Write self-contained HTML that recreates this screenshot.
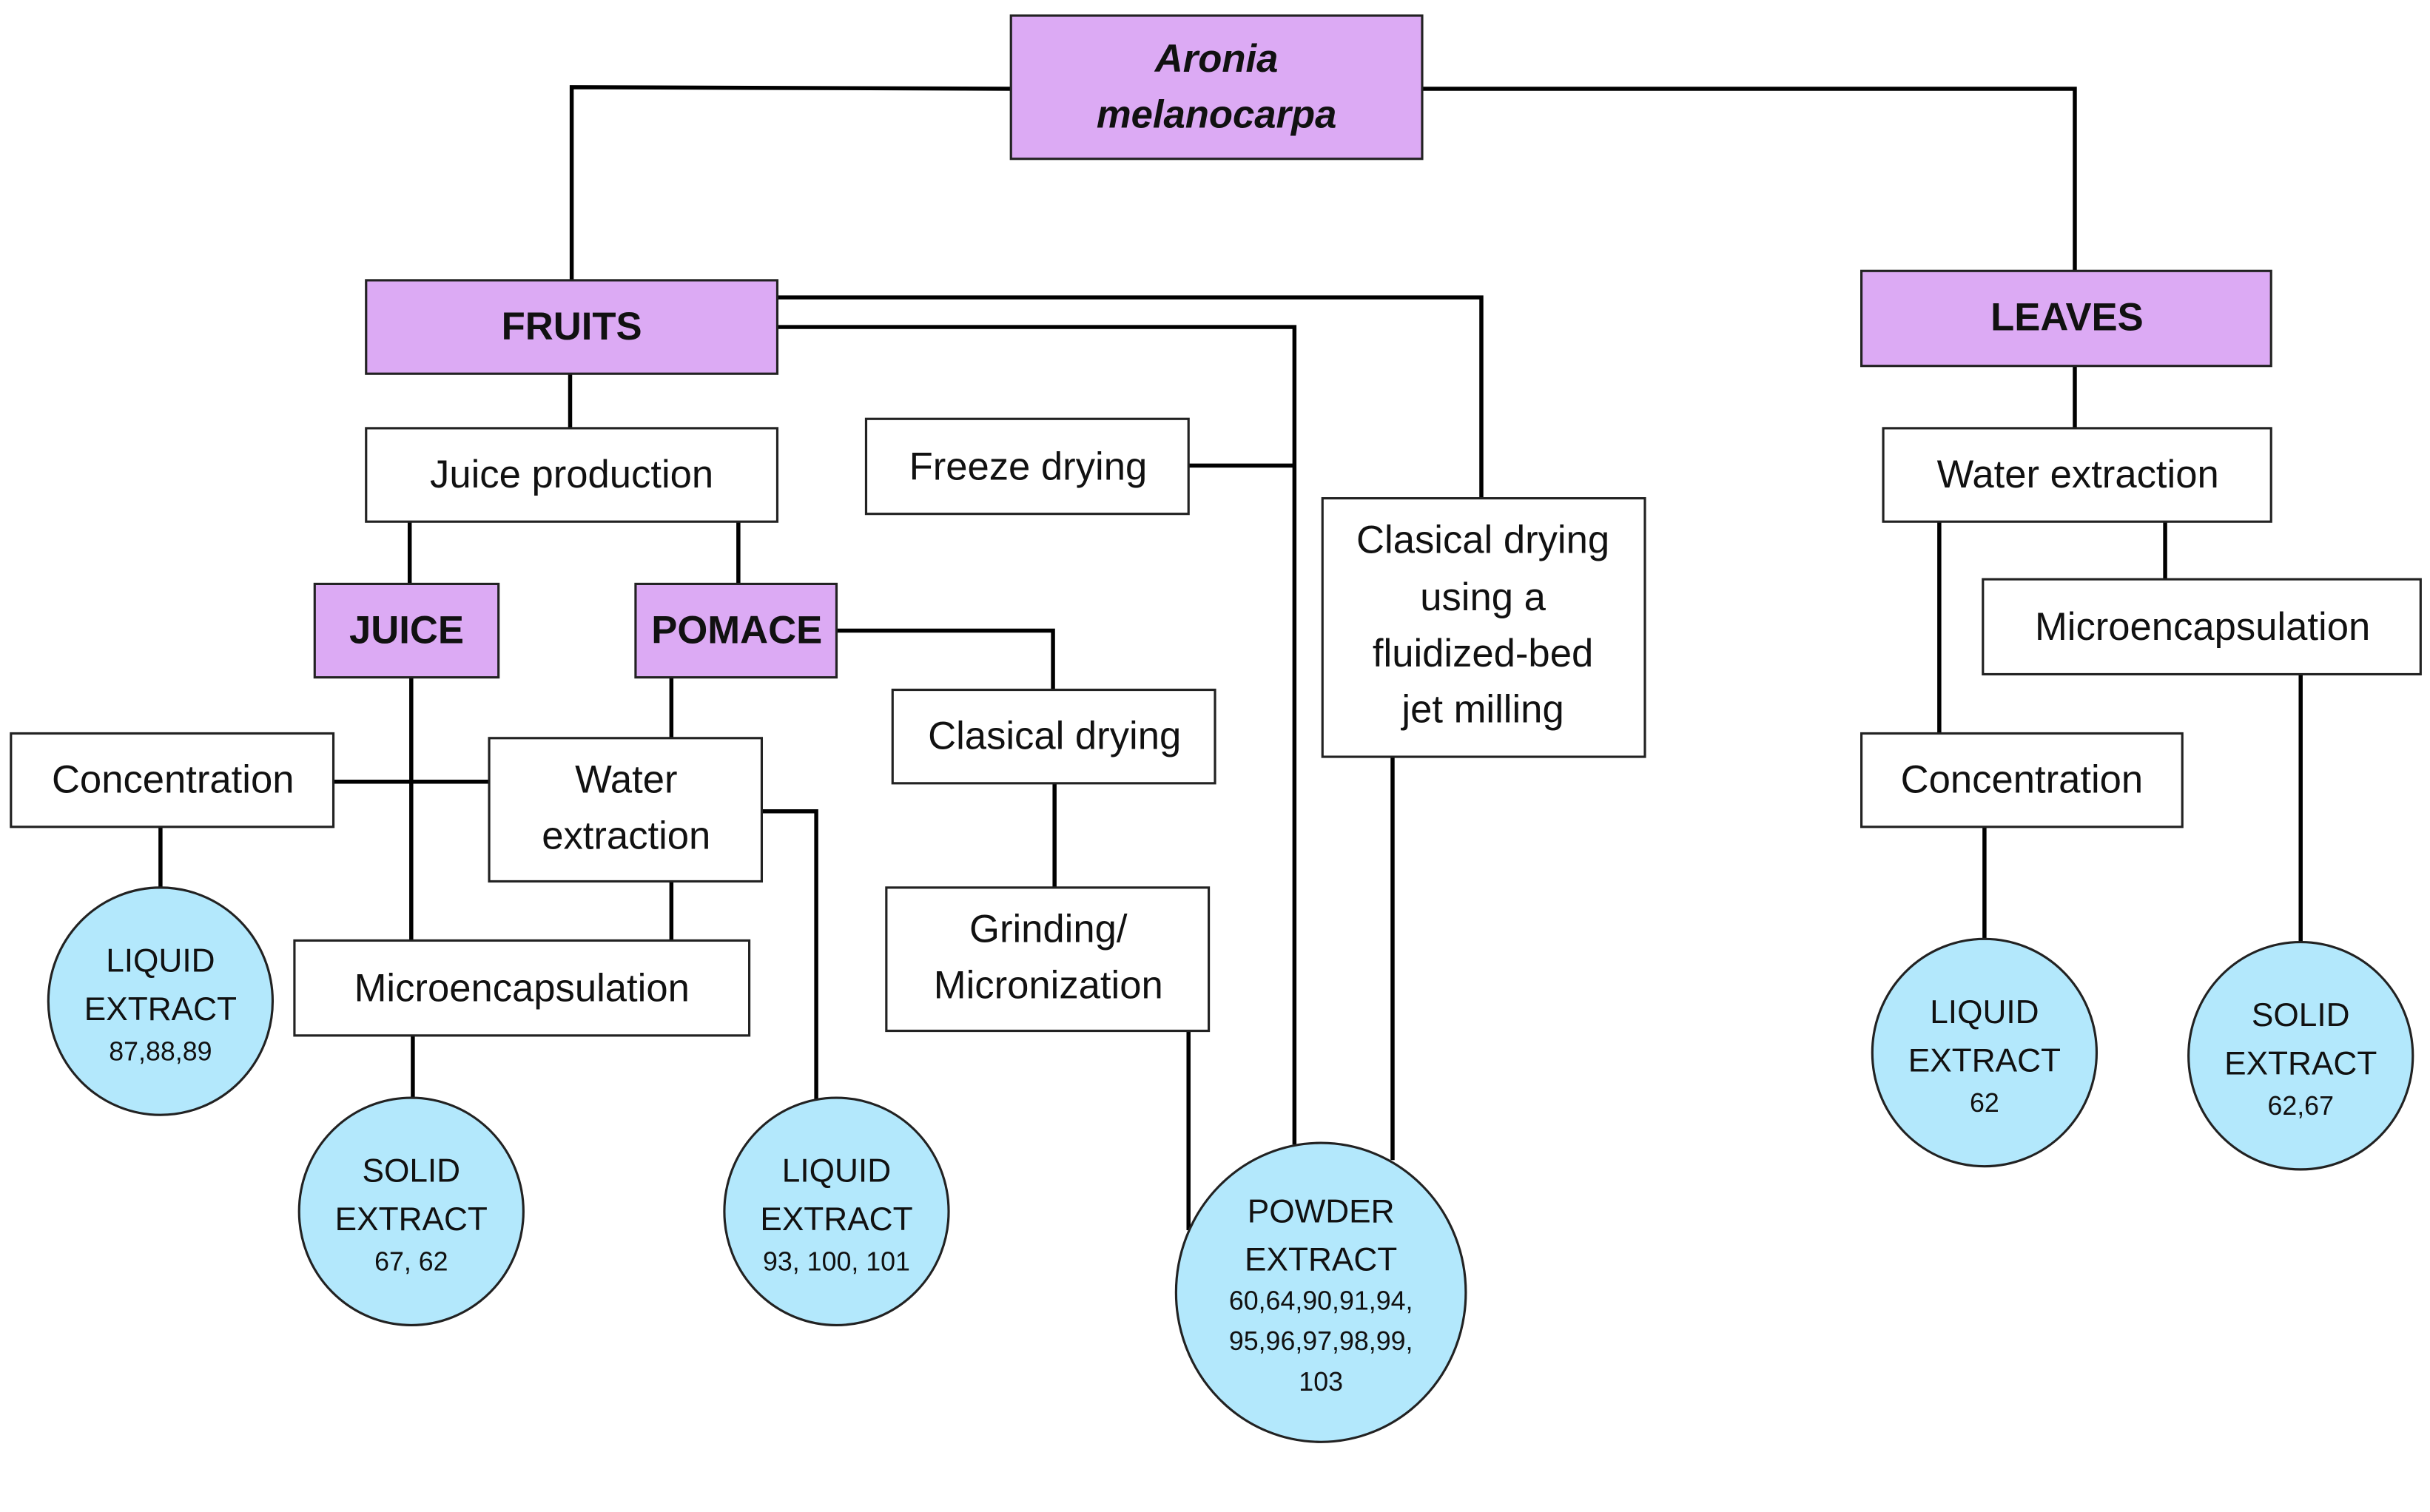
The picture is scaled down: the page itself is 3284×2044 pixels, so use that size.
<!DOCTYPE html>
<html><head><meta charset="utf-8"><style>
html,body{margin:0;padding:0;background:#fff;}
svg{display:block;}
text{font-family:"Liberation Sans",sans-serif;fill:#111;text-anchor:middle;}
</style></head><body>
<svg width="3284" height="2044" viewBox="0 0 1560 971" xmlns="http://www.w3.org/2000/svg">
<g fill="none" stroke="#000" stroke-width="2.6">
<polyline points="649,57 367,56 367,180"/>
<polyline points="913,57 1332,57 1332,174"/>
<polyline points="499,191 951,191 951,320"/>
<polyline points="499,210 831,210 831,735"/>
<line x1="763" y1="299" x2="831" y2="299"/>
<line x1="894" y1="486" x2="894" y2="745"/>
<line x1="366" y1="240" x2="366" y2="275"/>
<line x1="263" y1="335" x2="263" y2="375"/>
<line x1="474" y1="335" x2="474" y2="375"/>
<polyline points="537,405 676,405 676,443"/>
<line x1="677" y1="503" x2="677" y2="570"/>
<line x1="763" y1="662" x2="763" y2="790"/>
<line x1="264" y1="435" x2="264" y2="604"/>
<line x1="214" y1="502" x2="314" y2="502"/>
<line x1="431" y1="435" x2="431" y2="474"/>
<line x1="431" y1="566" x2="431" y2="604"/>
<polyline points="489,521 524,521 524,706"/>
<line x1="103" y1="531" x2="103" y2="571"/>
<line x1="265" y1="665" x2="265" y2="706"/>
<line x1="1332" y1="235" x2="1332" y2="275"/>
<line x1="1245" y1="335" x2="1245" y2="471"/>
<line x1="1390" y1="335" x2="1390" y2="372"/>
<line x1="1477" y1="433" x2="1477" y2="606"/>
<line x1="1274" y1="531" x2="1274" y2="604"/>
</g>
<g stroke="#222" stroke-width="1.5">
<rect x="649" y="10" width="264" height="92" fill="#dcaaf4"/>
<rect x="235" y="180" width="264" height="60" fill="#dcaaf4"/>
<rect x="1195" y="174" width="263" height="61" fill="#dcaaf4"/>
<rect x="202" y="375" width="118" height="60" fill="#dcaaf4"/>
<rect x="408" y="375" width="129" height="60" fill="#dcaaf4"/>
<rect x="556" y="269" width="207" height="61" fill="#fff"/>
<rect x="849" y="320" width="207" height="166" fill="#fff"/>
<rect x="235" y="275" width="264" height="60" fill="#fff"/>
<rect x="573" y="443" width="207" height="60" fill="#fff"/>
<rect x="569" y="570" width="207" height="92" fill="#fff"/>
<rect x="7" y="471" width="207" height="60" fill="#fff"/>
<rect x="314" y="474" width="175" height="92" fill="#fff"/>
<rect x="189" y="604" width="292" height="61" fill="#fff"/>
<rect x="1209" y="275" width="249" height="60" fill="#fff"/>
<rect x="1273" y="372" width="281" height="61" fill="#fff"/>
<rect x="1195" y="471" width="206" height="60" fill="#fff"/>
<ellipse cx="848" cy="830" rx="93" ry="96" fill="#b3e8fc"/>
<ellipse cx="103" cy="643" rx="72" ry="73" fill="#b3e8fc"/>
<ellipse cx="264" cy="778" rx="72" ry="73" fill="#b3e8fc"/>
<ellipse cx="537" cy="778" rx="72" ry="73" fill="#b3e8fc"/>
<ellipse cx="1274" cy="676" rx="72" ry="73" fill="#b3e8fc"/>
<ellipse cx="1477" cy="678" rx="72" ry="73" fill="#b3e8fc"/>
</g>
<g font-size="25" font-weight="bold">
<text x="781" y="46" font-style="italic">Aronia</text>
<text x="781" y="82" font-style="italic">melanocarpa</text>
<text x="367" y="218">FRUITS</text>
<text x="1327" y="212">LEAVES</text>
<text x="261" y="413">JUICE</text>
<text x="473" y="413">POMACE</text>
</g>
<g font-size="25">
<text x="367" y="313">Juice production</text>
<text x="660" y="308">Freeze drying</text>
<text x="952" y="355">Clasical drying</text>
<text x="952" y="392">using a</text>
<text x="952" y="428">fluidized-bed</text>
<text x="952" y="464">jet milling</text>
<text x="677" y="481">Clasical drying</text>
<text x="673" y="605">Grinding/</text>
<text x="673" y="641">Micronization</text>
<text x="111" y="509">Concentration</text>
<text x="402" y="509">Water</text>
<text x="402" y="545">extraction</text>
<text x="335" y="643">Microencapsulation</text>
<text x="1334" y="313">Water extraction</text>
<text x="1414" y="411">Microencapsulation</text>
<text x="1298" y="509">Concentration</text>
</g>
<g font-size="21">
<text x="848" y="785">POWDER</text>
<text x="848" y="816">EXTRACT</text>
<text x="103" y="624">LIQUID</text>
<text x="103" y="655">EXTRACT</text>
<text x="264" y="759">SOLID</text>
<text x="264" y="790">EXTRACT</text>
<text x="537" y="759">LIQUID</text>
<text x="537" y="790">EXTRACT</text>
<text x="1274" y="657">LIQUID</text>
<text x="1274" y="688">EXTRACT</text>
<text x="1477" y="659">SOLID</text>
<text x="1477" y="690">EXTRACT</text>
</g>
<g font-size="17">
<text x="848" y="841">60,64,90,91,94,</text>
<text x="848" y="867">95,96,97,98,99,</text>
<text x="848" y="893">103</text>
<text x="103" y="681">87,88,89</text>
<text x="264" y="816">67, 62</text>
<text x="537" y="816">93, 100, 101</text>
<text x="1274" y="714">62</text>
<text x="1477" y="716">62,67</text>
</g>
</svg>
</body></html>
